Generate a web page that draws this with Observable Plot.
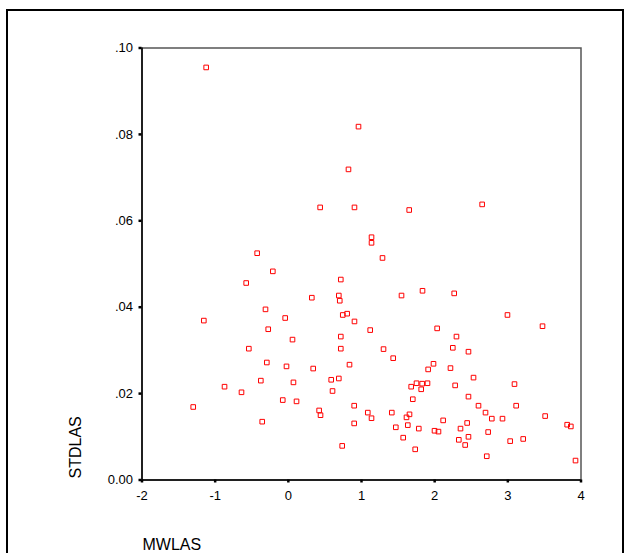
<!DOCTYPE html>
<html>
<head>
<meta charset="utf-8">
<script src="https://cdn.jsdelivr.net/npm/d3@7"></script>
<script src="https://cdn.jsdelivr.net/npm/@observablehq/plot@0.6"></script>
<style>
  html, body { margin: 0; padding: 0; background: #fff; }
  #wrap { position: relative; width: 624px; height: 553px; overflow: hidden; background: #fff; }
  #border { position: absolute; left: 6px; top: 9px; width: 614px; height: 600px; border: 2px solid #000; box-sizing: content-box; }
  #chart { position: absolute; left: 0; top: 0; }
</style>
</head>
<body>
<div id="wrap"><div id="border"></div><div id="chart"></div></div>
<script>
// MWLAS (x) and STDLAS (y) values
const mwlas = [
  -1.123, 0.959, 0.822, 0.435, -0.426, -0.212, -0.576, 0.321, 0.717, 0.69,
  0.703, -0.312, -0.043, -1.155, -0.275, 0.904, 1.652, 2.649, 1.137, 1.137,
  1.287, 0.744, 0.804, 1.547, 1.834, 2.267, 0.904, 2.995, 3.474, 1.119,
  2.034, 0.057, -0.54, 0.717, 0.717, -0.294, -0.025, 0.34, 0.586, 0.69,
  -0.376, 0.07, -0.872, -0.64, 0.604, -0.076, 0.112, -1.3, 0.421, 0.44,
  -0.357, 0.736, 2.298, 1.301, 2.248, 2.462, 1.433, 0.836, 1.984, 1.911,
  2.216, 2.531, 1.752, 1.829, 1.902, 1.679, 1.816, 2.28, 3.091, 1.701,
  2.462, 0.9, 2.599, 3.114, 1.086, 1.414, 1.656, 2.695, 3.51, 1.137,
  1.615, 2.781, 2.927, 0.9, 2.116, 2.444, 1.633, 3.811, 3.861, 1.469,
  1.783, 2.353, 1.998, 2.052, 2.731, 1.57, 2.462, 2.33, 3.21, 3.032,
  2.417, 1.734, 2.712, 3.925
];
const stdlas = [
  0.0955, 0.0818, 0.0719, 0.0631, 0.0525, 0.0483, 0.0456, 0.0422, 0.0464, 0.0427,
  0.0415, 0.0395, 0.0375, 0.0369, 0.0349, 0.0631, 0.0625, 0.0638, 0.0562, 0.0549,
  0.0514, 0.0382, 0.0385, 0.0427, 0.0438, 0.0432, 0.0367, 0.0382, 0.0356, 0.0347,
  0.0351, 0.0325, 0.0304, 0.0332, 0.0304, 0.0272, 0.0263, 0.0258, 0.0232, 0.0235,
  0.0230, 0.0226, 0.0216, 0.0203, 0.0206, 0.0185, 0.0182, 0.0169, 0.0161, 0.0150,
  0.0135, 0.0079, 0.0332, 0.0303, 0.0306, 0.0297, 0.0282, 0.0267, 0.0269, 0.0256,
  0.0259, 0.0237, 0.0224, 0.0223, 0.0224, 0.0216, 0.0210, 0.0219, 0.0222, 0.0187,
  0.0193, 0.0172, 0.0172, 0.0172, 0.0156, 0.0156, 0.0152, 0.0156, 0.0148, 0.0143,
  0.0145, 0.0142, 0.0142, 0.0131, 0.0138, 0.0132, 0.0127, 0.0128, 0.0124, 0.0122,
  0.0119, 0.0119, 0.0114, 0.0112, 0.0111, 0.0098, 0.0100, 0.0093, 0.0095, 0.0090,
  0.0081, 0.0071, 0.0055, 0.0045
];
const xTicks = [-2, -1, 0, 1, 2, 3, 4];
const xTickLabels = ["-2", "-1", "0", "1", "2", "3", "4"];
const yTicks = [0, 0.02, 0.04, 0.06, 0.08, 0.10];
const yTickLabels = ["0.00", ".02", ".04", ".06", ".08", ".10"];
const xTitle = "MWLAS";
const yTitle = "STDLAS";

const points = mwlas.map((x, i) => ({x, y: stdlas[i]}));
const yLab = new Map(yTicks.map((t, i) => [t.toFixed(2), yTickLabels[i]]));
const xLab = new Map(xTicks.map((t, i) => [String(t), xTickLabels[i]]));

const chart = Plot.plot({
  width: 624,
  height: 553,
  marginLeft: 141.5,
  marginRight: 43.5,
  marginTop: 47.5,
  marginBottom: 73.5,
  style: {fontFamily: "'Liberation Sans', Arial, sans-serif", fontSize: "13px", color: "#000", background: "transparent", overflow: "visible"},
  x: {domain: [-2, 4]},
  y: {domain: [0, 0.10]},
  marks: [
    Plot.frame({stroke: "#555", strokeWidth: 1.5}),
    Plot.ruleX([-2], {stroke: "#000", strokeWidth: 1.5}),
    Plot.ruleY([0], {stroke: "#000", strokeWidth: 1.5}),
    Plot.axisX(xTicks, {tickSize: 3, tickPadding: 7.5, strokeWidth: 2.5, label: null, tickFormat: d => xLab.get(String(d)), fontSize: 13}),
    Plot.axisY(yTicks, {tickSize: 3, tickPadding: 6, strokeWidth: 2.5, label: null, tickFormat: d => yLab.get(d.toFixed(2)), fontSize: 13}),
    Plot.dot(points, {x: "x", y: "y", symbol: "square", r: 2.6, stroke: "#ff0000", strokeWidth: 1, fill: "none"}),
    Plot.text([yTitle], {frameAnchor: "bottom-left", rotate: -90, textAnchor: "start", lineAnchor: "bottom", dx: -61.5, dy: -1.5, fontSize: 16, fill: "#000"}),
    Plot.text([xTitle], {frameAnchor: "bottom-left", textAnchor: "start", lineAnchor: "bottom", dx: 0.5, dy: 69.5, fontSize: 16, fill: "#000"})
  ]
});
document.getElementById("chart").appendChild(chart);
</script>
</body>
</html>
